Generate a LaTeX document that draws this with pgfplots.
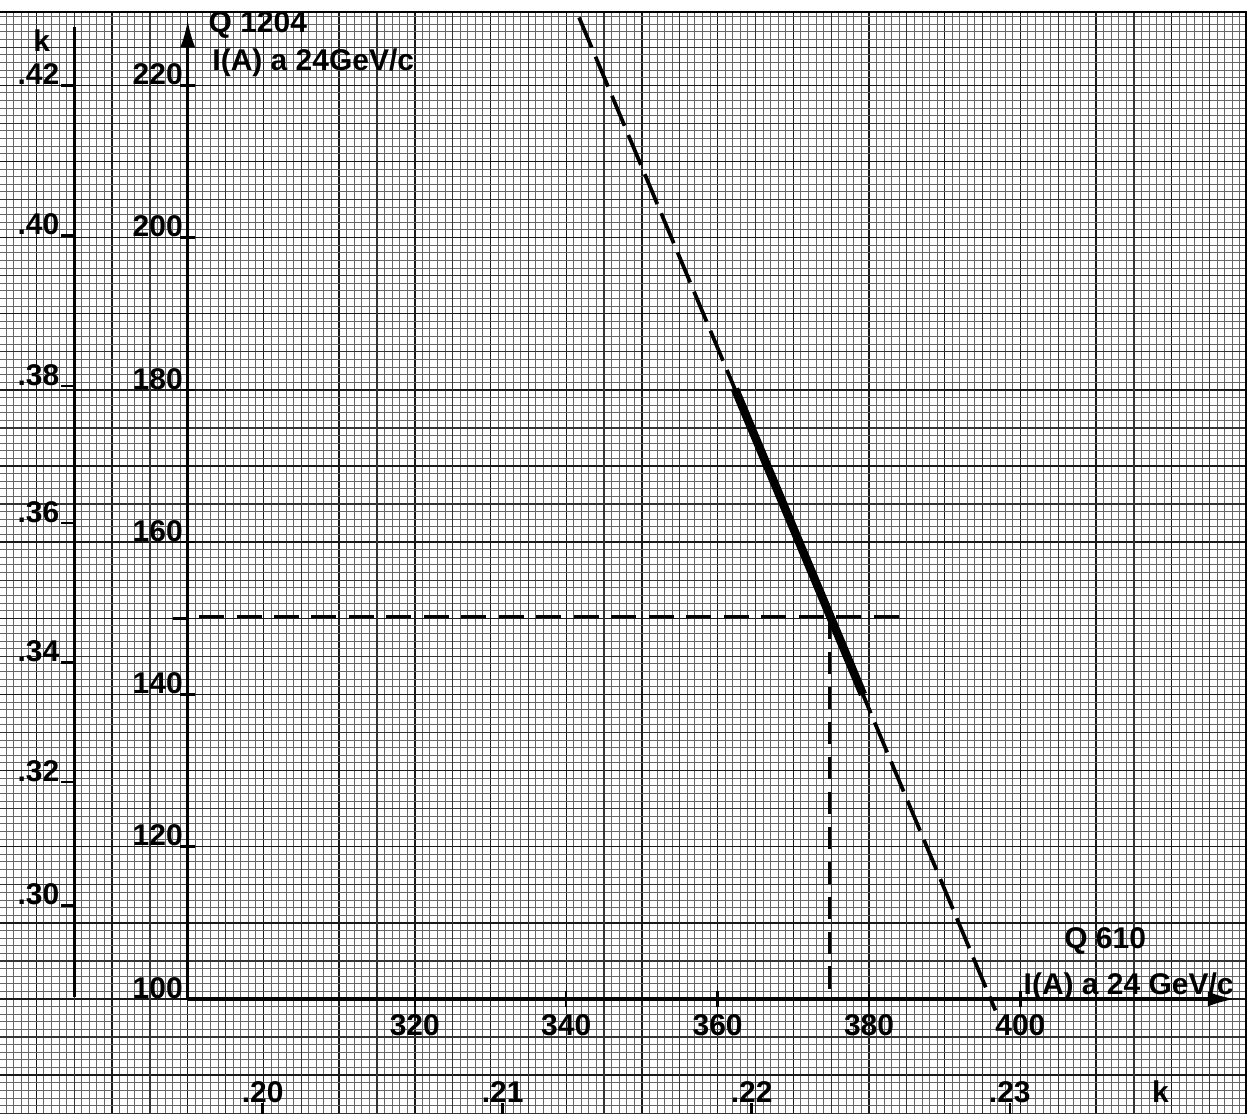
\documentclass[border=0pt]{standalone}
\usepackage{pgfplots}
\pgfplotsset{compat=1.18}
\usepackage{fontspec}
\setmainfont{Liberation Sans}
\usetikzlibrary{arrows.meta}
\newcommand\lab{\fontsize{12}{12.5}\selectfont\bfseries}
\begin{document}
\begin{tikzpicture}
\begin{axis}[
  name=ax,
  width=500pt, height=445.96pt, scale only axis,
  xmin=265.2, xmax=430.2, ymin=84.9, ymax=231.2,
  axis line style={draw=none},
  xtick={270,280,...,430}, ytick={90,100,...,230},
  minor xtick={266,267,...,430}, minor ytick={85,86,...,231},
  extra x ticks={265,275,...,425}, extra y ticks={85,95,...,225},
  extra x tick labels={}, extra y tick labels={},
  extra tick style={grid=major, major grid style={black!80, line width=0.5pt}},
  xticklabels={}, yticklabels={},
  major tick length=0pt, minor tick length=0pt,
  grid=both,
  minor grid style={black!60, line width=0.4pt},
  major grid style={black!90, line width=0.55pt},
  clip=false,
]
% paper border (white margin at top and right)
\fill[white] (axis cs:265.2,229.6) rectangle (axis cs:430.2,231.3);
\fill[white] (axis cs:429.8,84.9) rectangle (axis cs:430.3,231.3);
\addplot[black, line width=0.8pt] coordinates {(265.2,229.6) (429.8,229.6) (429.8,84.9)};

% main axes
\addplot[black, line width=1.4pt, -{Latex[length=11pt,width=6pt]}] coordinates {(290,100) (290,228.6)};
\addplot[black, line width=1.4pt, -{Latex[length=11pt,width=6pt]}] coordinates {(290,100) (428.4,100)};
% y ticks
\pgfplotsinvokeforeach{100,120,140,160,180,200,220}{
  \addplot[black, line width=1pt] coordinates {(289.0,#1) (291.0,#1)};
  \node[anchor=south east, inner sep=0pt] at (axis cs:289.4,#1) {\lab #1};
}
\addplot[black, line width=1pt] coordinates {(288.0,150) (290,150)};
% x ticks
\pgfplotsinvokeforeach{320,340,360,380,400}{
  \addplot[black, line width=1pt] coordinates {(#1,98.9) (#1,101.0)};
  \node[inner sep=0pt] at (axis cs:#1,96.6) {\lab #1};
}
% left k axis
\addplot[black, line width=1.2pt] coordinates {(275.1,100.2) (275.1,227.6)};
\node[inner sep=0pt] at (axis cs:270.7,225.9) {\lab k};
\addplot[black, line width=1pt] coordinates {(273.3,220.0) (275.1,220.0)};
\node[anchor=south east, inner sep=0pt] at (axis cs:273.1,220.0) {\lab .42};
\addplot[black, line width=1pt] coordinates {(273.3,200.3) (275.1,200.3)};
\node[anchor=south east, inner sep=0pt] at (axis cs:273.1,200.3) {\lab .40};
\addplot[black, line width=1pt] coordinates {(273.3,180.5) (275.1,180.5)};
\node[anchor=south east, inner sep=0pt] at (axis cs:273.1,180.5) {\lab .38};
\addplot[black, line width=1pt] coordinates {(273.3,162.5) (275.1,162.5)};
\node[anchor=south east, inner sep=0pt] at (axis cs:273.1,162.5) {\lab .36};
\addplot[black, line width=1pt] coordinates {(273.3,144.2) (275.1,144.2)};
\node[anchor=south east, inner sep=0pt] at (axis cs:273.1,144.2) {\lab .34};
\addplot[black, line width=1pt] coordinates {(273.3,128.5) (275.1,128.5)};
\node[anchor=south east, inner sep=0pt] at (axis cs:273.1,128.5) {\lab .32};
\addplot[black, line width=1pt] coordinates {(273.3,112.3) (275.1,112.3)};
\node[anchor=south east, inner sep=0pt] at (axis cs:273.1,112.3) {\lab .30};
% bottom k axis
\addplot[black, line width=1pt] coordinates {(299.9,84.9) (299.9,86.4)};
\node[inner sep=0pt] at (axis cs:299.9,87.8) {\lab .20};
\addplot[black, line width=1pt] coordinates {(331.6,84.9) (331.6,86.4)};
\node[inner sep=0pt] at (axis cs:331.6,87.8) {\lab .21};
\addplot[black, line width=1pt] coordinates {(364.5,84.9) (364.5,86.4)};
\node[inner sep=0pt] at (axis cs:364.5,87.8) {\lab .22};
\addplot[black, line width=1pt] coordinates {(398.6,84.9) (398.6,86.4)};
\node[inner sep=0pt] at (axis cs:398.6,87.8) {\lab .23};
\node[inner sep=0pt] at (axis cs:418.5,87.8) {\lab k};

% titles
\node[anchor=west, inner sep=0pt] at (axis cs:292.7,227.9) {\lab Q 1204};
\node[anchor=west, inner sep=0pt] at (axis cs:293.2,223.0) {\lab I(A) a 24GeV/c};
\node[inner sep=0pt] at (axis cs:411.2,107.6) {\lab Q 610};
\node[inner sep=0pt] at (axis cs:414.3,101.6) {\lab I(A) a 24 GeV/c};

% curves
\addplot[black, line width=1.5pt, dash pattern=on 13pt off 4pt] coordinates {(341.7,228.9) (396.7,98.5)};
\addplot[black, line width=3.4pt] coordinates {(362.3,180.1) (379.2,140.0)};
\addplot[black, line width=1.2pt, dash pattern=on 10pt off 5pt] coordinates {(291.5,150.2) (384.2,150.2)};
\addplot[black, line width=1.2pt, dash pattern=on 9pt off 5pt] coordinates {(374.8,150.2) (374.8,100)};
\end{axis}
\pgfresetboundingbox
\path[use as bounding box] (ax.south west) rectangle (ax.north east);
\end{tikzpicture}
\end{document}
